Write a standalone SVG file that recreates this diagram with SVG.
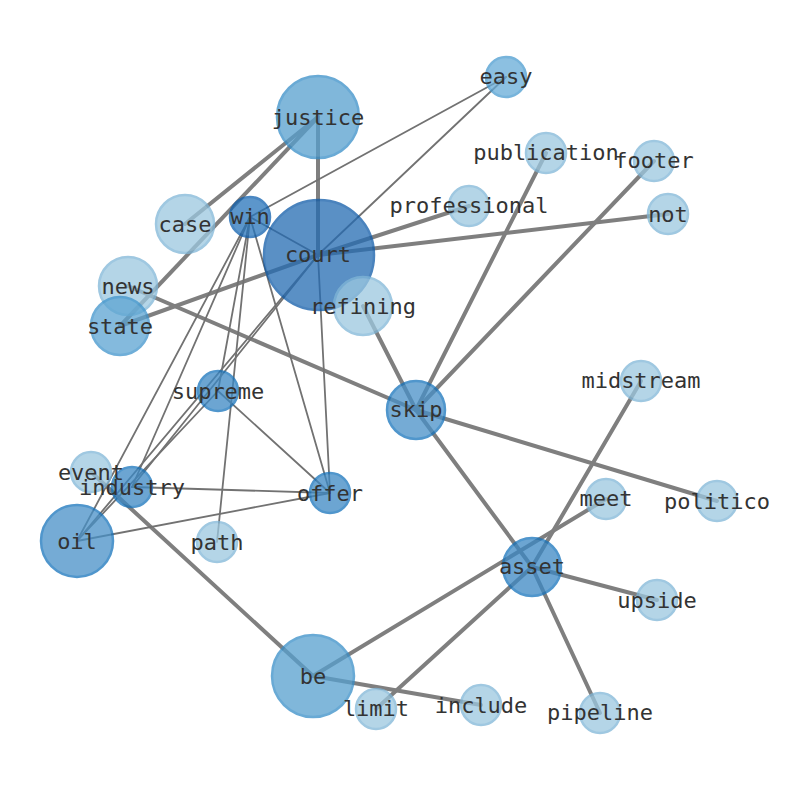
<svg xmlns="http://www.w3.org/2000/svg" width="794" height="790" viewBox="0 0 794 790">
<style>
.thick{stroke:#7f7f7f;stroke-width:4;stroke-linecap:round;fill:none}
.thin{stroke:#727272;stroke-width:1.8;stroke-linecap:round;fill:none}
circle{stroke-width:2.5;opacity:0.75}
.l{fill:#9cc8e0;stroke:#80b6d7}
.m{fill:#569fce;stroke:#388ec8}
.e{fill:#66abd7;stroke:#4a9bd0}
.s{fill:#5ca4d2;stroke:#3f94cc}
.o{fill:#4790c7;stroke:#1673bc}
.a{fill:#3b88c4;stroke:#1673bc}
.w{fill:#2674ba;stroke:#0e5fae}
.c{fill:#246bb2;stroke:#0e5aa8}
text{font-family:"DejaVu Sans Mono","Liberation Mono",monospace;font-size:22px;fill:#333;text-anchor:middle;dominant-baseline:central}
</style>
<rect width="794" height="790" fill="#fff"/>
<g id="edges">
<line class="thick" x1="318" y1="117" x2="185" y2="224"/>
<line class="thick" x1="318" y1="117" x2="120" y2="326"/>
<line class="thick" x1="318" y1="117" x2="318" y2="255"/>
<line class="thick" x1="318" y1="255" x2="120" y2="326"/>
<line class="thick" x1="318" y1="255" x2="469" y2="206"/>
<line class="thick" x1="318" y1="255" x2="668" y2="214"/>
<line class="thick" x1="128" y1="286" x2="416" y2="410"/>
<line class="thick" x1="363" y1="306" x2="416" y2="410"/>
<line class="thick" x1="416" y1="410" x2="546" y2="153"/>
<line class="thick" x1="416" y1="410" x2="654" y2="161"/>
<line class="thick" x1="416" y1="410" x2="717" y2="501"/>
<line class="thick" x1="416" y1="410" x2="532" y2="567"/>
<line class="thick" x1="532" y1="567" x2="641" y2="381"/>
<line class="thick" x1="532" y1="567" x2="657" y2="600"/>
<line class="thick" x1="532" y1="567" x2="600" y2="713"/>
<line class="thick" x1="532" y1="567" x2="376" y2="709"/>
<line class="thick" x1="313" y1="676" x2="606" y2="499"/>
<line class="thick" x1="313" y1="676" x2="481" y2="705"/>
<line class="thick" x1="91" y1="472" x2="313" y2="676"/>
<line class="thin" x1="506" y1="77" x2="250" y2="217"/>
<line class="thin" x1="506" y1="77" x2="318" y2="255"/>
<line class="thin" x1="250" y1="217" x2="318" y2="255"/>
<line class="thin" x1="250" y1="217" x2="77" y2="541"/>
<line class="thin" x1="250" y1="217" x2="132" y2="487"/>
<line class="thin" x1="250" y1="217" x2="218" y2="391"/>
<line class="thin" x1="250" y1="217" x2="217" y2="542"/>
<line class="thin" x1="250" y1="217" x2="330" y2="493"/>
<line class="thin" x1="318" y1="255" x2="132" y2="487"/>
<line class="thin" x1="318" y1="255" x2="77" y2="541"/>
<line class="thin" x1="318" y1="255" x2="330" y2="493"/>
<line class="thin" x1="218" y1="391" x2="77" y2="541"/>
<line class="thin" x1="218" y1="391" x2="330" y2="493"/>
<line class="thin" x1="132" y1="487" x2="330" y2="493"/>
<line class="thin" x1="77" y1="541" x2="330" y2="493"/>
</g>
<g id="nodes">
<g id="justice"><circle class="m" cx="318" cy="117" r="41"/></g>
<g id="easy"><circle class="e" cx="506" cy="77" r="20"/></g>
<g id="publication"><circle class="l" cx="546" cy="153" r="20"/></g>
<g id="footer"><circle class="l" cx="654" cy="161" r="20"/></g>
<g id="professional"><circle class="l" cx="469" cy="206" r="20"/></g>
<g id="not"><circle class="l" cx="668" cy="214" r="20"/></g>
<g id="case"><circle class="l" cx="185" cy="224" r="29"/></g>
<g id="win"><circle class="w" cx="250" cy="217" r="20"/></g>
<g id="court"><circle class="c" cx="319" cy="255" r="55"/></g>
<g id="refining"><circle class="l" cx="363" cy="306" r="29"/></g>
<g id="news"><circle class="l" cx="128" cy="286" r="29"/></g>
<g id="state"><circle class="s" cx="120" cy="326" r="29"/></g>
<g id="supreme"><circle class="a" cx="218" cy="391" r="20"/></g>
<g id="skip"><circle class="o" cx="416" cy="410" r="29"/></g>
<g id="midstream"><circle class="l" cx="641" cy="381" r="20"/></g>
<g id="event"><circle class="l" cx="91" cy="472" r="20"/></g>
<g id="industry"><circle class="a" cx="132" cy="487" r="20"/></g>
<g id="offer"><circle class="a" cx="330" cy="493" r="20"/></g>
<g id="meet"><circle class="l" cx="606" cy="499" r="20"/></g>
<g id="politico"><circle class="l" cx="717" cy="501" r="20"/></g>
<g id="oil"><circle class="o" cx="77" cy="541" r="36"/></g>
<g id="path"><circle class="l" cx="217" cy="542" r="20"/></g>
<g id="asset"><circle class="a" cx="532" cy="567" r="29"/></g>
<g id="upside"><circle class="l" cx="657" cy="600" r="20"/></g>
<g id="be"><circle class="m" cx="313" cy="676" r="41"/></g>
<g id="limit"><circle class="l" cx="376" cy="709" r="20"/></g>
<g id="include"><circle class="l" cx="481" cy="705" r="20"/></g>
<g id="pipeline"><circle class="l" cx="600" cy="713" r="20"/></g>
</g>
<g id="labels">
<text x="318" y="117">justice</text>
<text x="506" y="76">easy</text>
<text x="546" y="152">publication</text>
<text x="654" y="160">footer</text>
<text x="469" y="205">professional</text>
<text x="668" y="214">not</text>
<text x="185" y="224">case</text>
<text x="250" y="216">win</text>
<text x="318" y="254">court</text>
<text x="363" y="306">refining</text>
<text x="128" y="286">news</text>
<text x="120" y="326">state</text>
<text x="218" y="391">supreme</text>
<text x="416" y="409">skip</text>
<text x="641" y="380">midstream</text>
<text x="91" y="472">event</text>
<text x="132" y="487">industry</text>
<text x="330" y="493">offer</text>
<text x="606" y="498">meet</text>
<text x="717" y="501">politico</text>
<text x="77" y="541">oil</text>
<text x="217" y="542">path</text>
<text x="532" y="566">asset</text>
<text x="657" y="600">upside</text>
<text x="313" y="676">be</text>
<text x="376" y="708">limit</text>
<text x="481" y="705">include</text>
<text x="600" y="712">pipeline</text>
</g>
</svg>
